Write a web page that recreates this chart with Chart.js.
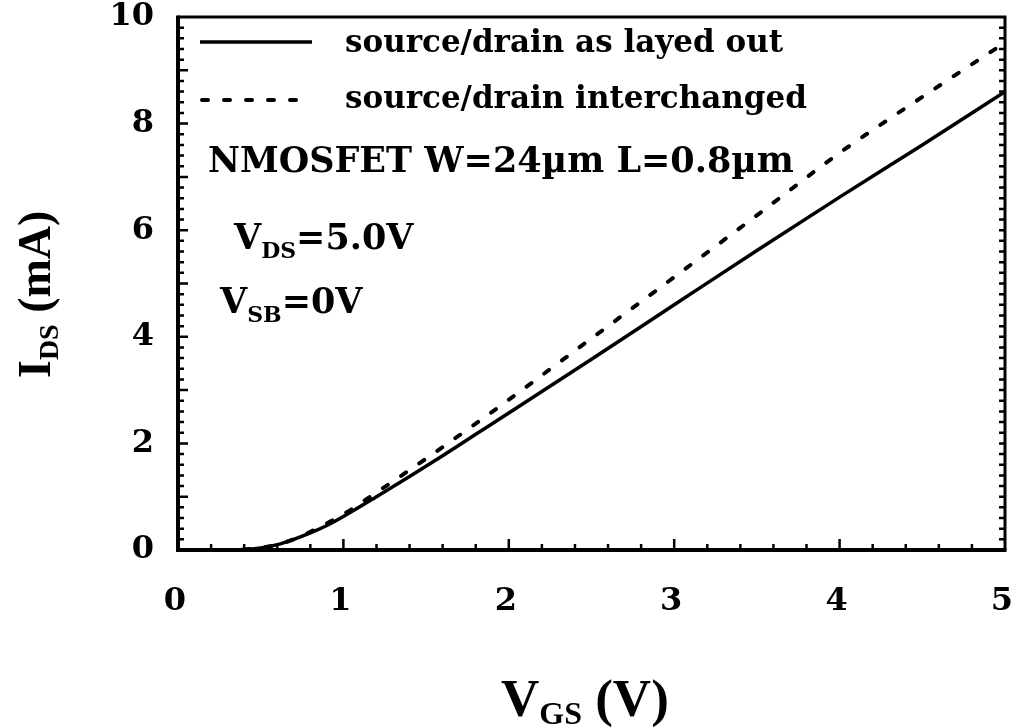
<!DOCTYPE html>
<html>
<head>
<meta charset="utf-8">
<script src="https://cdn.jsdelivr.net/npm/chart.js@4"></script>
<style>
  html, body { margin: 0; padding: 0; background: #fff; }
  #wrap { width: 1011px; height: 727px; }
</style>
</head>
<body>
<div id="wrap"><canvas id="chart"></canvas></div>
<script>
// Gate voltage samples (V) and drain current (mA)
const VGS = [0, 0.2, 0.4, 0.5, 0.6, 0.7, 0.8, 0.9, 1.0, 1.2, 1.4, 1.6, 1.8, 2.0, 2.5, 3.0, 3.5, 4.0, 4.5, 5.0];
const IDS_AS_LAYED_OUT = [0, 0, 0.01, 0.04, 0.1, 0.2, 0.32, 0.46, 0.63, 1.0, 1.38, 1.77, 2.17, 2.57, 3.58, 4.6, 5.62, 6.62, 7.6, 8.6];
const IDS_INTERCHANGED = [0, 0, 0.01, 0.04, 0.1, 0.2, 0.34, 0.5, 0.67, 1.08, 1.5, 1.93, 2.37, 2.82, 3.97, 5.12, 6.28, 7.45, 8.5, 9.52];

const SERIES_LABELS = ['source/drain as layed out', 'source/drain interchanged'];
const X_TICKS = [0, 1, 2, 3, 4, 5];
const Y_TICKS = [0, 2, 4, 6, 8, 10];

const FONT = '"Liberation Serif", "Times New Roman", serif';
const TEXT_FONT = '"DejaVu Serif", serif';
const INK = '#000';

const toPoints = (ys) => VGS.map((x, i) => ({x, y: ys[i]}));

// text with a subscript: main + sub + rest, returns end x
function subText(ctx, x, y, main, sub, rest, size, subSize, drop, family) {
    ctx.font = `bold ${size}px ${family}`;
    ctx.fillText(main, x, y);
    x += ctx.measureText(main).width;
    ctx.font = `bold ${subSize}px ${family}`;
    ctx.fillText(sub, x, y + drop);
    x += ctx.measureText(sub).width;
    ctx.font = `bold ${size}px ${family}`;
    ctx.fillText(rest, x, y);
    return x + ctx.measureText(rest).width;
}

// inward ticks + the box around the plot
const frameTicks = {
    id: 'frameTicks',
    afterDatasetsDraw(chart) {
        const {ctx, chartArea: a, scales: {x, y}} = chart;
        ctx.save();
        ctx.strokeStyle = INK;
        ctx.lineCap = 'butt';
        // x axis ticks (pointing up)
        ctx.lineWidth = 2.5;
        for (let i = 1; i < 25; i++) {
            const px = x.getPixelForValue(i * 0.2);
            const len = i % 5 === 0 ? 11 : 6;
            ctx.beginPath();
            ctx.moveTo(px, a.bottom);
            ctx.lineTo(px, a.bottom - len);
            ctx.stroke();
        }
        // y axis ticks, left and right
        for (let i = 1; i < 50; i++) {
            const py = y.getPixelForValue(i * 0.2);
            const len = i % 5 === 0 ? 10 : 6;
            ctx.beginPath();
            ctx.moveTo(a.left, py);
            ctx.lineTo(a.left + len, py);
            ctx.moveTo(a.right, py);
            ctx.lineTo(a.right - 6, py);
            ctx.stroke();
        }
        // frame
        ctx.lineWidth = 3;
        ctx.beginPath();
        ctx.moveTo(a.left, a.top);
        ctx.lineTo(a.right, a.top);
        ctx.lineTo(a.right, a.bottom);
        ctx.stroke();
        ctx.lineWidth = 4;
        ctx.beginPath();
        ctx.moveTo(a.left, a.top - 1.5);
        ctx.lineTo(a.left, a.bottom);
        ctx.lineTo(a.right + 1.5, a.bottom);
        ctx.stroke();
        ctx.restore();
    },
};

// legend, device notes and axis titles
const notes = {
    id: 'notes',
    afterDraw(chart) {
        const {ctx} = chart;
        const sets = chart.data.datasets;
        ctx.save();
        ctx.fillStyle = INK;
        ctx.textBaseline = 'alphabetic';
        ctx.textAlign = 'left';

        // legend rows
        const rows = [{y: 42, x0: 200, x1: 312, ty: 52}, {y: 100, x0: 202, x1: 300, ty: 108}];
        rows.forEach((r, i) => {
            const ds = sets[i];
            ctx.strokeStyle = ds.borderColor;
            ctx.lineWidth = ds.borderWidth;
            ctx.lineCap = ds.borderCapStyle || 'butt';
            ctx.setLineDash(ds.borderDash || []);
            ctx.beginPath();
            ctx.moveTo(r.x0, r.y);
            ctx.lineTo(r.x1, r.y);
            ctx.stroke();
            ctx.setLineDash([]);
            ctx.font = `bold 31px ${TEXT_FONT}`;
            ctx.fillText(ds.label, 345, r.ty);
        });

        ctx.font = `bold 35px ${TEXT_FONT}`;
        ctx.fillText('NMOSFET W=24\u00b5m L=0.8\u00b5m', 208, 172);
        subText(ctx, 234, 249, 'V', 'DS', '=5.0V', 35, 22, 9, TEXT_FONT);
        subText(ctx, 220, 313, 'V', 'SB', '=0V', 35, 22, 9, TEXT_FONT);

        // x title
        subText(ctx, 501, 716, 'V', 'GS', ' (V)', 53, 32, 8, FONT);

        // y title (rotated)
        ctx.translate(50, 378);
        ctx.rotate(-Math.PI / 2);
        subText(ctx, 0, 0, 'I', 'DS', ' (mA)', 46, 28, 8, FONT);
        ctx.restore();
    },
};

const datasets = [
    {
        label: SERIES_LABELS[0],
        data: toPoints(IDS_AS_LAYED_OUT),
        borderColor: INK,
        borderWidth: 3.5,
        borderCapStyle: 'butt',
        cubicInterpolationMode: 'monotone',
        pointRadius: 0,
        fill: false,
    },
    {
        label: SERIES_LABELS[1],
        data: toPoints(IDS_INTERCHANGED),
        borderColor: INK,
        borderWidth: 4,
        borderDash: [6, 16],
        borderCapStyle: 'round',
        cubicInterpolationMode: 'monotone',
        pointRadius: 0,
        fill: false,
    },
];

new Chart(document.getElementById('chart'), {
    type: 'line',
    data: {datasets},
    options: {
        responsive: true,
        maintainAspectRatio: false,
        animation: false,
        events: [],
        layout: {padding: {top: 17, right: 6, left: 0, bottom: 0}},
        plugins: {
            legend: {display: false},
            tooltip: {enabled: false},
        },
        scales: {
            x: {
                type: 'linear',
                min: 0,
                max: 5,
                afterBuildTicks: (s) => { s.ticks = X_TICKS.map(v => ({value: v})); },
                afterFit: (s) => { s.height = 177; s.paddingLeft = 0; s.paddingRight = 0; },
                grid: {display: false, drawTicks: false},
                border: {display: false},
                ticks: {
                    color: INK,
                    padding: 32,
                    labelOffset: -3,
                    maxRotation: 0,
                    font: {family: TEXT_FONT, size: 32, weight: 'bold'},
                },
            },
            y: {
                type: 'linear',
                min: 0,
                max: 10,
                afterBuildTicks: (s) => { s.ticks = Y_TICKS.map(v => ({value: v})); },
                afterFit: (s) => { s.width = 178; s.paddingTop = 0; s.paddingBottom = 0; },
                grid: {display: false, drawTicks: false},
                border: {display: false},
                ticks: {
                    color: INK,
                    padding: 24,
                    font: {family: TEXT_FONT, size: 32, weight: 'bold'},
                },
            },
        },
    },
    plugins: [frameTicks, notes],
});
</script>
</body>
</html>
